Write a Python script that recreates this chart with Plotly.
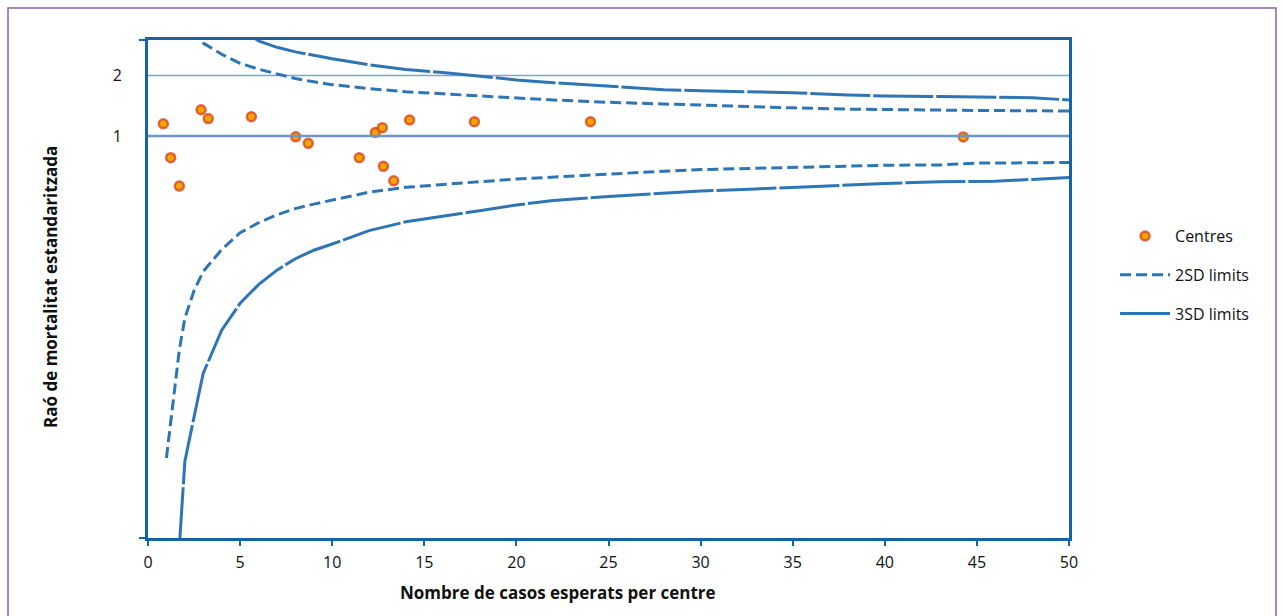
import plotly.graph_objects as go

# ---- data ----
centre_x = [0.83, 1.23, 1.70, 2.88, 3.27, 5.61, 8.02, 8.70, 11.47, 12.34, 12.72, 12.78, 13.34, 14.20, 17.72, 24.02, 44.26]
centre_y = [1.15, 0.78, 0.563, 1.35, 1.22, 1.246, 0.99, 0.919, 0.779, 1.04, 1.10, 0.706, 0.598, 1.20, 1.177, 1.177, 0.989]

l2_x = [1, 1.4, 1.7, 2, 2.5, 3, 4, 5, 6, 7, 8, 9, 10, 12, 14, 16, 18, 20, 22, 25, 28, 30, 33, 35, 38, 40, 43, 44.5, 45, 48, 50]
l2_y = [0.025, 0.05, 0.086, 0.124, 0.17, 0.212, 0.272, 0.33, 0.37, 0.405, 0.435, 0.458, 0.478, 0.525, 0.555, 0.575, 0.592, 0.61, 0.625, 0.648, 0.668, 0.68, 0.692, 0.70, 0.71, 0.715, 0.717, 0.733, 0.733, 0.735, 0.738]

u2_x = [2.5, 3, 4, 5, 6, 7, 8, 9, 10, 12, 14, 16, 18, 20, 22, 25, 28, 30, 33, 35, 38, 40, 43, 45, 48, 50]
u2_y = [3.4, 2.9, 2.55, 2.30, 2.15, 2.03, 1.93, 1.86, 1.80, 1.72, 1.66, 1.62, 1.58, 1.55, 1.51, 1.47, 1.44, 1.42, 1.40, 1.38, 1.36, 1.35, 1.345, 1.34, 1.335, 1.33]

l3_x = [1.7, 2, 2.5, 3, 4, 5, 6, 7, 8, 9, 10, 12, 14, 16, 18, 20, 22, 25, 28, 30, 33, 35, 38, 40, 43, 46, 48, 50]
l3_y = [0.009, 0.024, 0.040, 0.066, 0.108, 0.147, 0.182, 0.215, 0.245, 0.27, 0.29, 0.338, 0.374, 0.40, 0.425, 0.453, 0.478, 0.50, 0.52, 0.532, 0.545, 0.556, 0.57, 0.58, 0.592, 0.595, 0.608, 0.622]

u3_x = [5.5, 6, 7, 8, 9, 10, 12, 14, 16, 18, 20, 22, 25, 28, 30, 33, 35, 38, 40, 43, 45, 48, 50]
u3_y = [3.2, 2.97, 2.76, 2.62, 2.52, 2.42, 2.26, 2.14, 2.07, 1.98, 1.90, 1.84, 1.77, 1.70, 1.68, 1.66, 1.64, 1.60, 1.58, 1.57, 1.56, 1.55, 1.51]

x_ticks = [0, 5, 10, 15, 20, 25, 30, 35, 40, 45, 50]
y_ticks = [1, 2]
y_ticktext = ["1", "2"]

LINE = "#2E75B6"
AXIS = "#1464AC"
FONT = "Open Sans"
TXT = "#111111"

fig = go.Figure()

# horizontal guide lines at SMR = 2 (thin) and SMR = 1 (thicker)
fig.add_shape(type="line", xref="paper", x0=0, x1=1, yref="y", y0=y_ticks[1], y1=y_ticks[1],
              line=dict(color="#7DA5D4", width=1.5), layer="below")
fig.add_shape(type="line", xref="paper", x0=0, x1=1, yref="y", y0=y_ticks[0], y1=y_ticks[0],
              line=dict(color="#6B97C8", width=2.5), layer="above")

fig.add_trace(go.Scatter(
    x=centre_x, y=centre_y, mode="markers", name="Centres", legendgroup="a",
    marker=dict(size=9, color="#F7A600", line=dict(color="rgba(214,60,30,0.75)", width=2.5)),
))
fig.add_trace(go.Scatter(
    x=l2_x, y=l2_y, mode="lines", name="2SD limits", legendgroup="b",
    line=dict(color=LINE, width=3, dash="11px,5px"),
))
fig.add_trace(go.Scatter(
    x=u2_x, y=u2_y, mode="lines", name="2SD limits", legendgroup="b", showlegend=False,
    line=dict(color=LINE, width=3, dash="11px,5px"),
))
fig.add_trace(go.Scatter(
    x=l3_x, y=l3_y, mode="lines", name="3SD limits", legendgroup="c",
    line=dict(color=LINE, width=3, dash="60px,3px"),
))
fig.add_trace(go.Scatter(
    x=u3_x, y=u3_y, mode="lines", name="3SD limits", legendgroup="c", showlegend=False,
    line=dict(color=LINE, width=3, dash="60px,3px"),
))

# outer frame
fig.add_shape(type="rect", xref="paper", yref="paper",
              x0=(8 - 148) / 921, x1=(1276 - 148) / 921,
              y0=-0.2, y1=(538 - 8) / 498,
              line=dict(color="#8A62A8", width=1.5), layer="below")

fig.update_layout(
    width=1284, height=616,
    margin=dict(l=148, r=215, t=40, b=78),
    paper_bgcolor="white", plot_bgcolor="white",
    font=dict(family=FONT, size=16, color=TXT),
    showlegend=True,
    legend=dict(x=1.05, xanchor="left", y=0.528, yanchor="middle",
                font=dict(size=16, color=TXT), tracegroupgap=15,
                itemwidth=50, traceorder="grouped", bgcolor="rgba(0,0,0,0)"),
    xaxis=dict(range=[0, 50], tickvals=x_ticks, ticks="outside", ticklen=5, tickwidth=2,
               tickcolor=AXIS, showline=True, linecolor=AXIS, linewidth=3, mirror=True,
               showgrid=False, zeroline=False, tickfont=dict(size=16, color=TXT),
               ticklabelstandoff=3),
    yaxis=dict(type="log", range=[-2.0003, 0.4774], tickvals=y_ticks, ticktext=y_ticktext,
               ticks="", showline=True, linecolor=AXIS, linewidth=3, mirror=True,
               showgrid=False, zeroline=False,
               tickfont=dict(size=16, color=TXT), ticklabelstandoff=20,
               minor=dict(tickmode="array", tickvals=[0.01, 3], ticks="outside",
                          ticklen=6, tickwidth=2, tickcolor=AXIS, showgrid=False)),
    annotations=[
        dict(text="<b>Nombre de casos esperats per centre</b>", xref="paper", yref="paper",
             x=(558 - 148) / 921, y=(538 - 592) / 498, showarrow=False,
             xanchor="center", yanchor="middle", font=dict(size=17, color=TXT)),
        dict(text="<b>Raó de mortalitat estandaritzada</b>", xref="paper", yref="paper",
             x=(50 - 148) / 921, y=(538 - 287) / 498, showarrow=False, textangle=-90,
             xanchor="center", yanchor="middle", font=dict(size=17, color=TXT)),
    ],
)

fig.write_html("out.html", config={"displayModeBar": False},
               post_script="document.body.style.margin='0';")
